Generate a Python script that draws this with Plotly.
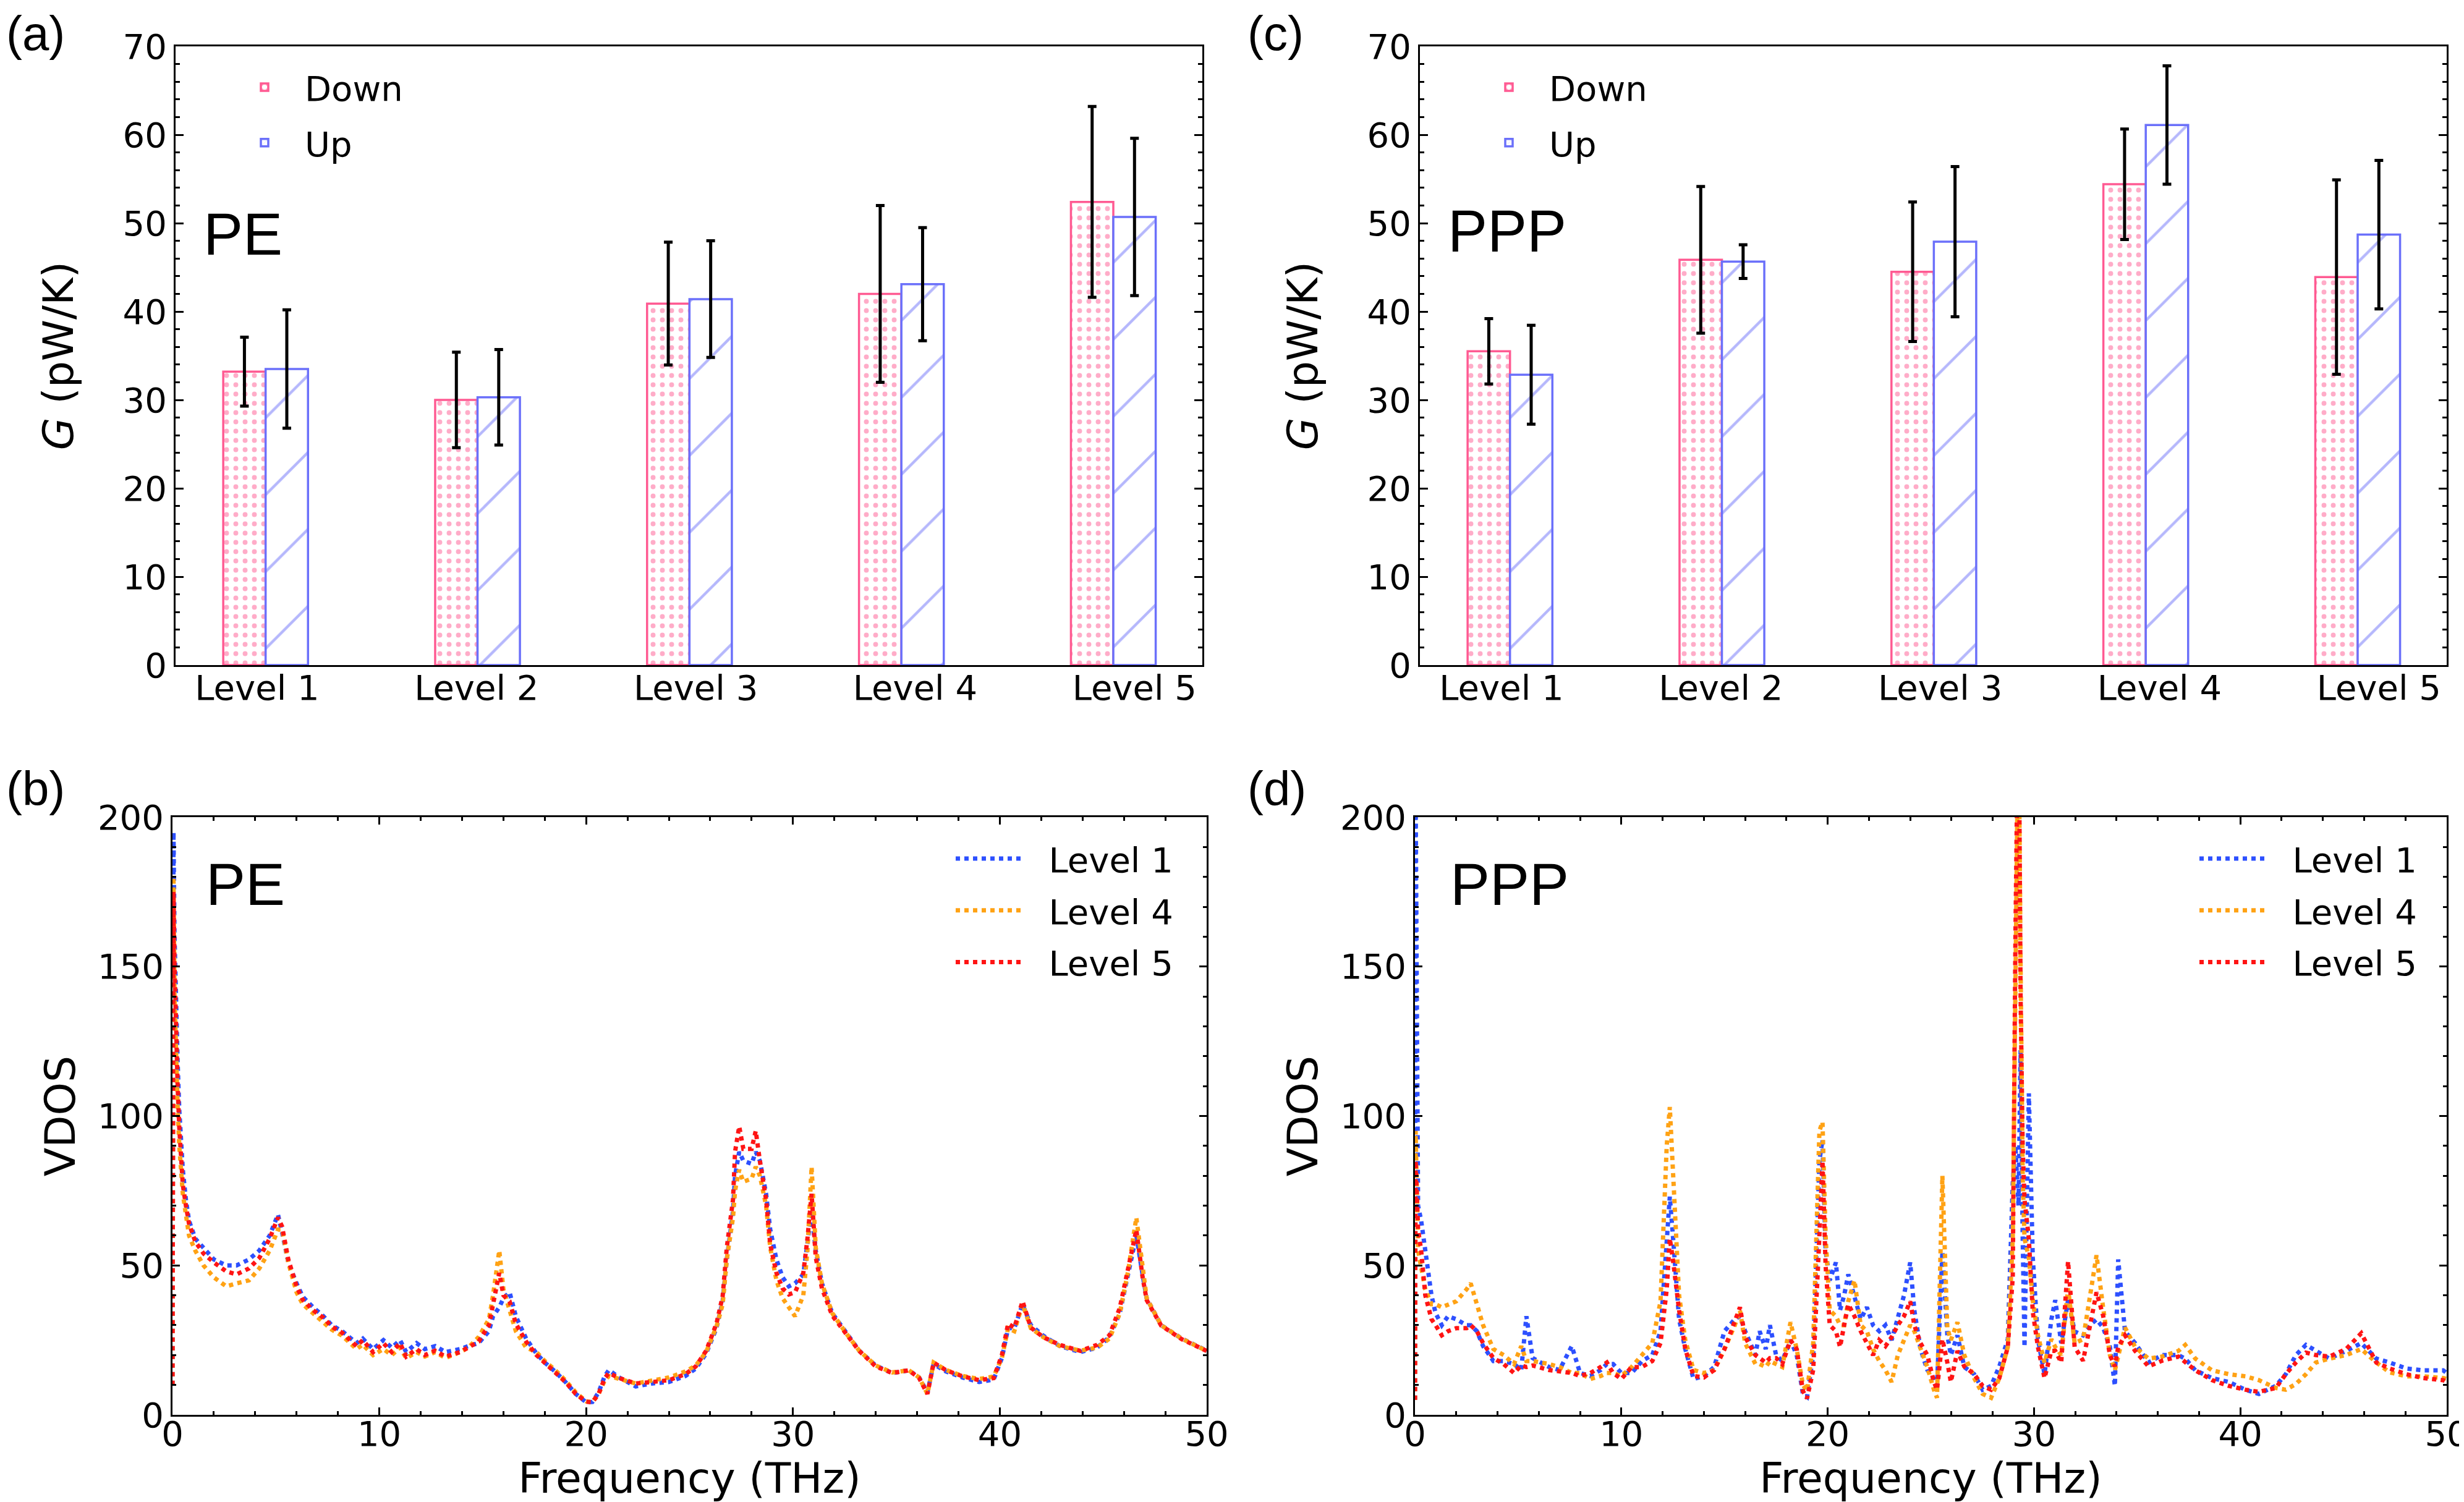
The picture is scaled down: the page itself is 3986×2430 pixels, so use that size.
import plotly.graph_objects as go

# ---------------- data ----------------
categories = ["Level 1", "Level 2", "Level 3", "Level 4", "Level 5"]

pe_down = [33.2, 30.0, 40.9, 42.0, 52.4]
pe_down_err = [3.9, 5.4, 6.95, 10.0, 10.8]
pe_up = [33.5, 30.3, 41.4, 43.1, 50.7]
pe_up_err = [6.7, 5.4, 6.6, 6.4, 8.9]

ppp_down = [35.5, 45.85, 44.5, 54.4, 43.9]
ppp_down_err = [3.7, 8.3, 7.9, 6.25, 11.0]
ppp_up = [32.85, 45.65, 47.9, 61.1, 48.7]
ppp_up_err = [5.6, 1.9, 8.5, 6.7, 8.4]

pe_freq = [
    0.0, 0.05, 0.1, 0.17, 0.25, 0.33, 0.41, 0.5, 0.65, 0.8,
    1.1, 1.5, 2.0, 2.6, 3.1, 3.7, 4.2, 4.7, 5.1, 5.3,
    5.6, 6.0, 6.3, 6.8, 7.3, 7.7, 8.2, 8.9, 9.2, 9.7,
    10.2, 10.6, 11.0, 11.3, 11.8, 12.2, 12.7, 13.2, 13.9, 14.3,
    14.8, 15.3, 15.5, 15.8, 16.0, 16.3, 16.6, 17.1, 17.6, 18.0,
    18.5, 19.0, 19.5, 20.0, 20.3, 20.6, 20.9, 21.1, 21.6, 22.4,
    23.2, 24.0, 24.8, 25.3, 25.8, 26.3, 26.6, 26.8, 27.1, 27.2,
    27.4, 27.6, 28.0, 28.2, 28.4, 28.7, 28.9, 29.2, 29.5, 29.8,
    30.1, 30.5, 30.7, 30.9, 31.1, 31.4, 31.9, 32.6, 33.2, 34.0,
    34.8, 35.6, 36.1, 36.5, 36.8, 37.4, 38.2, 39.0, 39.7, 40.1,
    40.4, 40.7, 41.1, 41.5, 42.1, 42.9, 43.9, 44.7, 45.3, 45.8,
    46.2, 46.6, 46.9, 47.1, 47.8, 48.8, 50.0]

pe_level1 = [
    10, 195, 160, 135, 118, 102, 92, 82, 72, 65,
    59, 56, 52, 50, 50, 52, 55, 60, 67, 61,
    51, 44, 39.5, 36, 33, 30, 28, 24, 25.5, 22,
    25, 22.5, 25, 21, 24, 22, 23, 21, 22, 23,
    24, 28, 33, 36, 39, 41, 33, 25.5, 20.5, 17.5,
    14.5, 11, 7, 4.2, 4.3, 7.5, 13, 15, 12.5, 9.5,
    10.5, 11, 13, 15.5, 20.5, 29, 38, 52, 68, 80,
    88, 85, 84, 88, 85, 74, 62, 52, 46, 43,
    44, 47, 58, 68, 55, 44, 34, 27, 21.5, 16.5,
    14, 14.9, 12.5, 7.5, 17, 14.5, 12.5, 11, 11.8, 19,
    29, 29, 37, 30, 26.5, 23, 21, 22.5, 26, 34,
    47, 60, 47, 39, 30, 25.5, 21.5]

pe_level4 = [
    10, 180, 140, 120, 103, 90, 82, 74, 67, 60,
    55, 50, 46, 43, 44, 45, 49, 55, 62, 62,
    51, 41, 37, 34, 31, 28.5, 26.5, 22, 23.5, 20,
    22, 20, 22.5, 19, 21, 19.5, 21, 19, 21, 22.5,
    26, 32, 40, 55, 42, 35, 28, 22.5, 21, 18,
    15, 11.5, 7.5, 4.5, 4.3, 7, 11.5, 13, 12, 10.5,
    11.5, 12.5, 14.5, 16.5, 21, 29.5, 37, 52, 66, 75,
    82, 78, 79, 83, 80, 70, 56, 45, 39, 36,
    33, 40, 55, 83, 56, 44, 34, 27, 21.5, 16.5,
    14.2, 14.9, 12.5, 7, 17.5, 15, 13, 12, 12.8, 19,
    29, 28, 37, 29, 26, 23, 21.5, 22.5, 25.5, 34,
    48, 66, 48, 39, 30, 25.5, 21.4]

pe_level5 = [
    10, 175, 150, 128, 110, 96, 85, 77, 70, 64,
    58, 54, 51, 48, 47, 49, 52.5, 59, 66, 63,
    52, 43, 38.5, 35, 32.5, 29.5, 27.5, 23, 25, 21,
    24, 21, 24, 19.5, 22, 20, 21.5, 19.5, 21, 22.5,
    24.5, 30, 37, 47.5, 40, 38, 30.5, 24.5, 20, 17.5,
    14.2, 11, 7, 4.4, 4.2, 7, 12.3, 14, 12.3, 10.5,
    11, 11.6, 13.6, 16.2, 21.4, 30.5, 39.7, 56, 72, 88,
    96.5, 89, 89, 95, 85, 72, 57, 47.5, 42.3, 40.3,
    41, 47.5, 59, 74, 52.7, 42.3, 33.2, 26.6, 21.4, 16.2,
    14, 14.9, 12.3, 7, 17.5, 14.9, 12.9, 11.6, 12.3, 20,
    30.5, 29.2, 38, 29.2, 26, 23.4, 21.4, 23.4, 26.6, 35.8,
    48.8, 61.9, 46.2, 38.4, 29.9, 25.3, 21.4]

ppp_freq = [
    0.0, 0.03, 0.15, 0.3, 0.5, 0.8, 1.0, 1.3, 1.6, 2.0,
    2.5, 2.7, 3.0, 3.3, 3.8, 4.3, 4.8, 5.15, 5.4, 5.7,
    6.5, 7.0, 7.6, 8.0, 8.5, 9.0, 9.3, 9.6, 10.0, 10.5,
    11.0, 11.5, 11.9, 12.2, 12.35, 12.5, 12.8, 13.1, 13.5, 14.0,
    14.5, 15.0, 15.5, 15.75, 16.0, 16.5, 16.7, 17.0, 17.2, 17.5,
    17.8, 18.2, 18.5, 18.8, 19.0, 19.3, 19.6, 19.75, 19.9, 20.1,
    20.4, 20.6, 20.8, 21.0, 21.3, 21.6, 21.9, 22.2, 22.5, 22.8,
    23.1, 23.4, 23.7, 24.0, 24.2, 24.5, 24.83, 25.15, 25.3, 25.56,
    25.8, 25.97, 26.29, 26.62, 27.1, 27.51, 27.92, 28.32, 28.73, 28.97,
    29.1, 29.25, 29.35, 29.45, 29.54, 29.75, 29.94, 30.19, 30.51, 30.84,
    31.03, 31.32, 31.65, 31.97, 32.38, 32.79, 33.03, 33.35, 33.68, 33.92,
    34.08, 34.41, 34.9, 35.55, 36.2, 37.0, 37.33, 37.82, 38.63, 39.44,
    40.25, 40.9, 41.72, 42.2, 42.69, 43.18, 43.66, 44.31, 45.13, 45.86,
    46.59, 47.24, 48.05, 48.86, 49.83, 50.0]

ppp_level1 = [
    5, 210, 70, 65, 55, 40, 34, 30, 33, 32,
    30, 30, 28, 23, 18, 18, 17, 15, 33, 19,
    16, 15, 23, 14, 13, 15, 17, 17, 14, 14,
    18, 20, 28, 60, 73, 60, 32, 22, 12, 13,
    16, 28, 32, 33, 28, 20, 28, 22, 30, 20,
    18, 25, 20, 7, 6, 20, 85, 92, 55, 45,
    51, 35, 40, 47, 40, 32, 36, 30, 28, 30,
    25, 32, 40, 51, 35, 22, 15, 12, 9.7, 54.7,
    26.6, 20, 26.6, 16, 13.6, 8.4, 9.7, 16.2, 25.3, 77.5,
    90, 70, 122, 60, 22.7, 107.6, 52.7, 25.3, 13.6, 31.9,
    38.4, 24, 38.4, 27.9, 26.6, 30.5, 31.9, 29.2, 22.7, 9.7,
    52, 27.9, 24, 17.5, 20, 20, 18.8, 14.9, 12.3, 11,
    8.4, 7, 9.7, 13.6, 20, 23.4, 21.4, 18.8, 21.4, 24,
    18.8, 17.5, 15.5, 14.9, 14.9, 14]

ppp_level4 = [
    5, 95, 55, 50, 42, 37, 37, 36, 37, 38,
    42, 44, 37, 30, 22, 20, 17, 23, 18, 18,
    17, 16, 14, 14, 12, 13, 14, 14, 13, 16,
    20, 24, 38, 90, 103, 80, 40, 25, 15, 14,
    15, 22, 30, 35, 24, 17, 17, 16, 18, 17,
    16, 31, 22, 10, 8, 24, 95, 98, 60, 35,
    33, 30, 30, 38, 45, 30, 28, 22, 18, 15,
    11, 20, 25, 30, 28, 22, 16, 8.4, 5.7, 80,
    29, 25, 31, 20, 12.3, 7, 5.7, 12.3, 22.7, 59,
    150, 240, 150, 80, 59, 52.7, 38.4, 26.6, 17.5, 25.3,
    22.7, 20, 42.3, 24, 25.3, 42.3, 53.4, 35.8, 20, 14.9,
    20, 29.2, 22.7, 18.8, 19.5, 21.4, 23.4, 18.8, 14.9, 13.6,
    12.9, 11.6, 9, 8.4, 10.3, 13.6, 17.5, 18.8, 20, 22,
    17.5, 14.2, 12.9, 12.9, 12.3, 12]

ppp_level5 = [
    5, 85, 62, 55, 40, 32, 30, 26.6, 28, 29,
    29, 30, 28, 24, 19, 17, 14, 16.5, 16, 16.5,
    15, 14.5, 14, 13, 14, 16, 17.5, 14, 12, 16,
    16, 18, 24, 42, 59, 52, 35, 22, 13, 12.5,
    15, 22, 32, 36, 26, 20, 19, 17.5, 19, 19,
    17, 25, 22, 8, 5.5, 15, 60, 85, 50, 30,
    28, 22.7, 30, 37, 33, 28, 24, 20, 25, 23,
    26, 30, 33, 38, 30, 24, 20, 11, 8.4, 25.3,
    17.5, 11, 21.4, 16.2, 13.6, 9.7, 8.4, 12.3, 22.7, 46,
    160, 250, 140, 90, 72, 59, 34.5, 22.7, 12.3, 21.4,
    21.4, 17.5, 51.4, 22.7, 18.1, 33.2, 41, 33.2, 20, 16.2,
    22.7, 26.6, 21.4, 16.2, 18.1, 19.5, 17.5, 14.9, 11.6, 9.7,
    8.4, 7.7, 9, 13.6, 17.5, 20.8, 20, 19.5, 22, 27.3,
    17.5, 15.5, 13.6, 12.3, 11.6, 11]

# ---------------- styling ----------------
W, H = 3986, 2430
FONT = "DejaVu Sans"
ARIAL = "Liberation Sans"
PINK = "#ff5a92"
BLUE = "#6b70fa"
C1 = "#2d50ff"
C4 = "#ffa214"
C5 = "#ff1414"

fig = go.Figure()


def px_x(p):
    return p / W


def px_y(p):
    return 1 - p / H


dom = {
    "a": ([px_x(276), px_x(1937)], [px_y(1068), px_y(67)]),
    "c": ([px_x(2289), px_x(3950)], [px_y(1068), px_y(67)]),
    "b": ([px_x(271), px_x(1944)], [px_y(2281), px_y(1314)]),
    "d": ([px_x(2281), px_x(3950)], [px_y(2281), px_y(1314)]),
}

idx = list(range(len(categories)))


def add_bars(down, down_err, up, up_err, xa, ya, leg):
    fig.add_trace(go.Bar(
        x=idx, y=down, name="Down", xaxis=xa, yaxis=ya, legend=leg,
        legendgroup=leg + "d",
        error_y=dict(type="data", array=down_err, visible=True, color="black",
                     thickness=5, width=7),
        marker=dict(color="white", line=dict(color=PINK, width=3.5),
                    pattern=dict(shape=".", fgcolor=PINK, bgcolor="white",
                                 size=15, solidity=0.22)),
    ))
    fig.add_trace(go.Bar(
        x=idx, y=up, name="Up", xaxis=xa, yaxis=ya, legend=leg,
        legendgroup=leg + "u",
        error_y=dict(type="data", array=up_err, visible=True, color="black",
                     thickness=5, width=7),
        marker=dict(color="white", line=dict(color=BLUE, width=3.5),
                    pattern=dict(shape="/", fgcolor=BLUE, bgcolor="white",
                                 size=88, solidity=0.05)),
    ))


add_bars(pe_down, pe_down_err, pe_up, pe_up_err, "x", "y", "legend")
add_bars(ppp_down, ppp_down_err, ppp_up, ppp_up_err, "x2", "y2", "legend2")

GAP = "\u00a0\u00a0"


def add_vdos(freq, series, xa, ya, leg):
    for name, vals, col in series:
        fig.add_trace(go.Scatter(
            x=freq, y=vals, name=GAP + name, mode="lines", xaxis=xa, yaxis=ya,
            legend=leg, legendgroup=leg + name,
            line=dict(color=col, width=7, dash="dot"),
        ))


add_vdos(pe_freq, [("Level 1", pe_level1, C1), ("Level 4", pe_level4, C4),
                   ("Level 5", pe_level5, C5)], "x3", "y3", "legend3")
add_vdos(ppp_freq, [("Level 1", ppp_level1, C1), ("Level 4", ppp_level4, C4),
                    ("Level 5", ppp_level5, C5)], "x4", "y4", "legend4")

tickfont = dict(family=FONT, size=56, color="black")
titlefont = dict(family=FONT, size=68, color="black")

common_line = dict(showline=True, linecolor="black", linewidth=3,
                   showgrid=False, zeroline=False, tickfont=tickfont,
                   automargin=False)

label_pos = [i * 1.035 - 0.04 for i in idx]


def bar_xaxis(domain, anchor):
    return dict(domain=domain, anchor=anchor, range=[-0.425, 4.42],
                tickmode="array", tickvals=label_pos, ticktext=categories,
                ticks="", mirror=True, ticklabelstandoff=-14, **common_line)


def bar_yaxis(domain, anchor):
    return dict(domain=domain, anchor=anchor, range=[0, 70], tick0=0, dtick=10,
                ticks="inside", ticklen=13, tickwidth=3, tickcolor="black",
                minor=dict(ticks="inside", dtick=2, ticklen=7, tickwidth=2.5,
                           tickcolor="black"),
                mirror="allticks",
                title=dict(text="<i>G</i> (pW/K)", font=titlefont, standoff=58),
                **common_line)


def vd_xaxis(domain, anchor):
    return dict(domain=domain, anchor=anchor, range=[0, 50], tick0=0, dtick=10,
                ticks="inside", ticklen=12, tickwidth=3, tickcolor="black",
                minor=dict(ticks="inside", dtick=2, ticklen=6, tickwidth=2.5,
                           tickcolor="black"),
                mirror="allticks", ticklabelstandoff=-20,
                title=dict(text="Frequency (THz)", font=titlefont, standoff=14),
                **common_line)


def vd_yaxis(domain, anchor):
    return dict(domain=domain, anchor=anchor, range=[0, 200], tick0=0, dtick=50,
                ticks="inside", ticklen=12, tickwidth=3, tickcolor="black",
                minor=dict(ticks="inside", dtick=10, ticklen=6, tickwidth=2.5,
                           tickcolor="black"),
                mirror="allticks",
                title=dict(text="VDOS", font=titlefont, standoff=15),
                **common_line)


legend_common = dict(bgcolor="rgba(0,0,0,0)", borderwidth=0,
                     font=dict(family=FONT, size=56, color="black"),
                     traceorder="grouped")

fig.update_layout(
    width=W, height=H,
    margin=dict(l=0, r=0, t=0, b=0),
    paper_bgcolor="white", plot_bgcolor="white",
    barmode="group", bargap=0.6, bargroupgap=0,
    xaxis=bar_xaxis(dom["a"][0], "y"),
    yaxis=bar_yaxis(dom["a"][1], "x"),
    xaxis2=bar_xaxis(dom["c"][0], "y2"),
    yaxis2=bar_yaxis(dom["c"][1], "x2"),
    xaxis3=vd_xaxis(dom["b"][0], "y3"),
    yaxis3=vd_yaxis(dom["b"][1], "x3"),
    xaxis4=vd_xaxis(dom["d"][0], "y4"),
    yaxis4=vd_yaxis(dom["d"][1], "x4"),
    legend=dict(x=px_x(355), y=px_y(90), xanchor="left", yanchor="top",
                itemwidth=120, tracegroupgap=14, **legend_common),
    legend2=dict(x=px_x(2368), y=px_y(90), xanchor="left", yanchor="top",
                 itemwidth=120, tracegroupgap=14, **legend_common),
    legend3=dict(x=px_x(1895), y=px_y(1338), xanchor="right", yanchor="top",
                 itemwidth=110, tracegroupgap=8, **legend_common),
    legend4=dict(x=px_x(3907), y=px_y(1338), xanchor="right", yanchor="top",
                 itemwidth=110, tracegroupgap=8, **legend_common),
    showlegend=True,
)

letter_font = dict(family=ARIAL, size=78, color="black")
for txt, x, y in [("(a)", 0, 46), ("(c)", 2008, 46), ("(b)", 0, 1268), ("(d)", 2008, 1268)]:
    fig.add_annotation(text=txt, x=px_x(x), y=px_y(y), xref="paper", yref="paper",
                       xanchor="left", yanchor="middle", showarrow=False,
                       font=letter_font)

mat_font = dict(family=ARIAL, size=96, color="black")
for txt, xr, yr, xd, yd in [("PE", "x domain", "y domain", 0.026, 0.697),
                            ("PPP", "x2 domain", "y2 domain", 0.026, 0.702),
                            ("PE", "x3 domain", "y3 domain", 0.031, 0.888),
                            ("PPP", "x4 domain", "y4 domain", 0.033, 0.888)]:
    fig.add_annotation(text=txt, x=xd, y=yd, xref=xr, yref=yr, xanchor="left",
                       yanchor="middle", showarrow=False, font=mat_font)

fig.write_html("out.html")
